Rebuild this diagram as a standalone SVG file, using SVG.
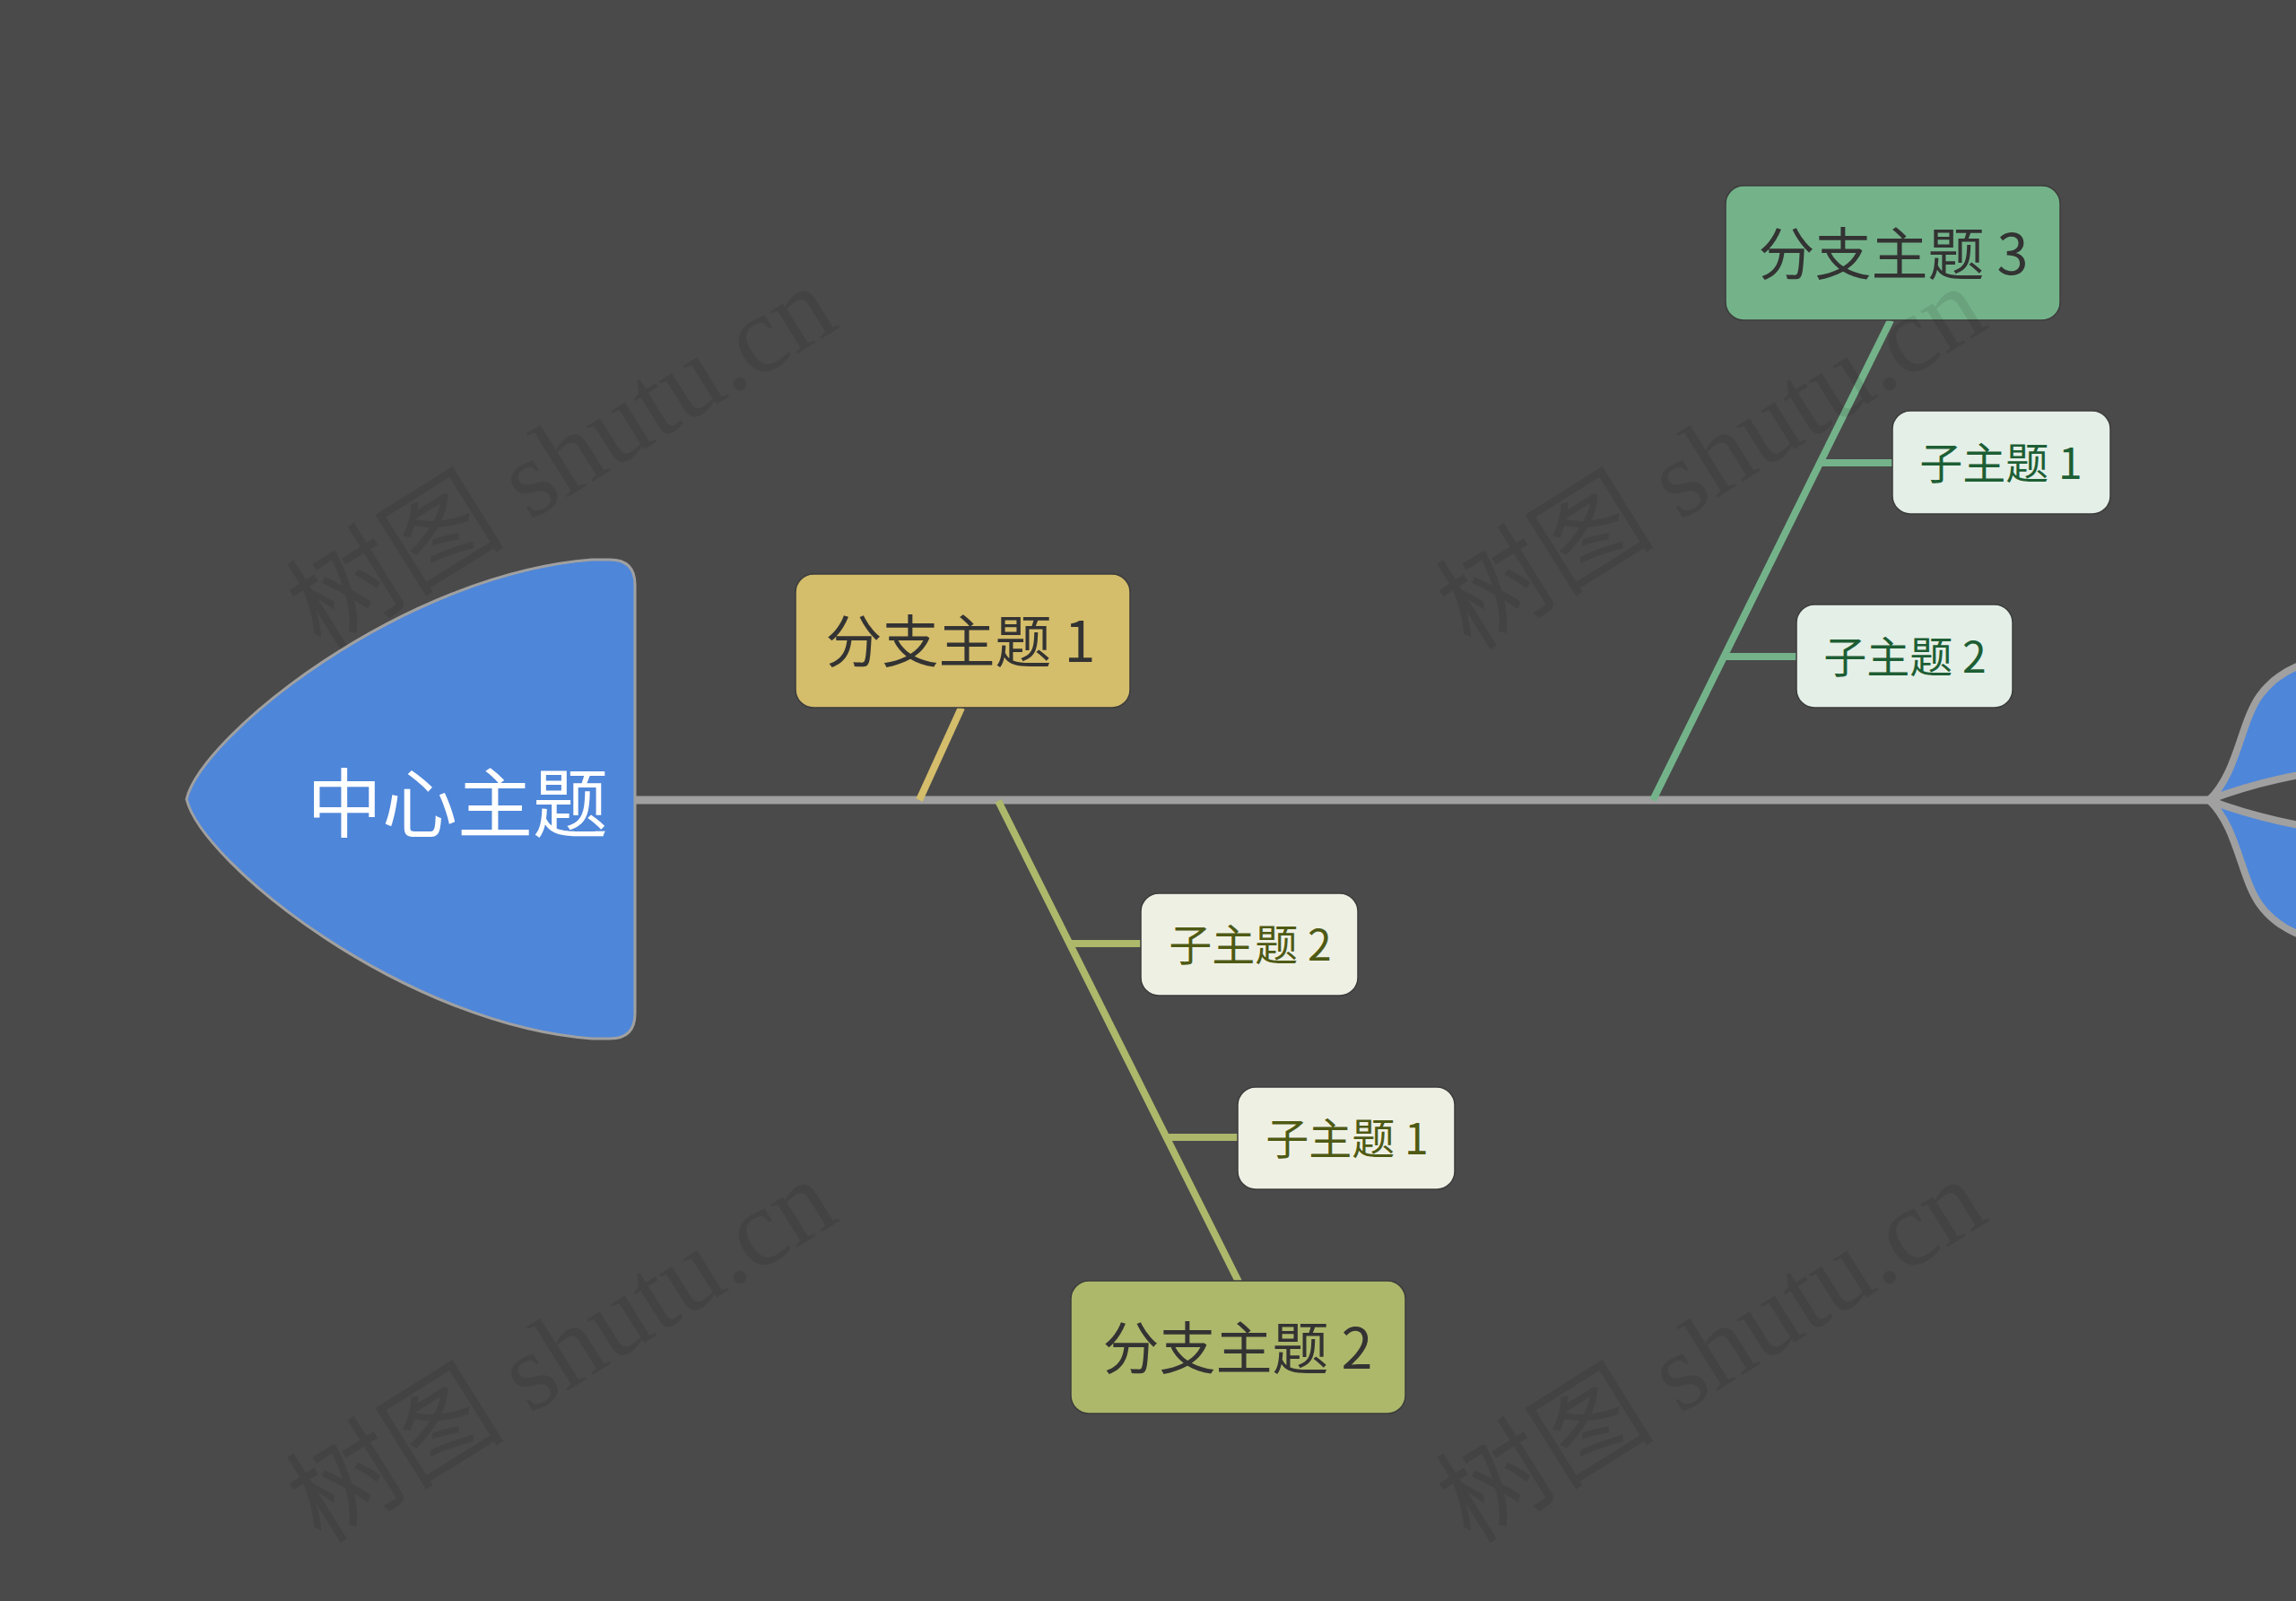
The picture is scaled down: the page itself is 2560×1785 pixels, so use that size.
<svg xmlns="http://www.w3.org/2000/svg" width="2560" height="1785" viewBox="0 0 2560 1785">
  <style>
    .t { font-family: "Noto Sans CJK SC", "Noto Sans", sans-serif; }
    .branch-box { stroke: #3c3c3c; stroke-width: 1.5; }
    .sub-box { stroke: #3c3c3c; stroke-width: 1.5; }
    .branch-text { font-size: 63px; fill: #333333; text-anchor: middle; }
    .sub-text { font-size: 48px; text-anchor: middle; }
    .wm { font-family: "Liberation Serif", "Noto Sans CJK SC", serif; font-size: 122px; fill: #000000; fill-opacity: 0.09; text-anchor: middle; }
    .c-line { fill: none; stroke-linecap: butt; }
  </style>
  <rect x="0" y="0" width="2560" height="1785" fill="#4a4a4a"/>

  <g id="connectors">
    <line class="c-line" x1="708" y1="892" x2="2466" y2="892" stroke="#a0a0a0" stroke-width="9"/>
    <line class="c-line" x1="1072" y1="789" x2="1025" y2="892" stroke="#d4bd6b" stroke-width="8"/>
    <line class="c-line" x1="1113" y1="893" x2="1381" y2="1429" stroke="#adb86b" stroke-width="8"/>
    <line class="c-line" x1="1193" y1="1052" x2="1273" y2="1052" stroke="#adb86b" stroke-width="8"/>
    <line class="c-line" x1="1301" y1="1268" x2="1381" y2="1268" stroke="#adb86b" stroke-width="8"/>
    <line class="c-line" x1="1843" y1="892" x2="2108" y2="357" stroke="#74b38a" stroke-width="8"/>
    <line class="c-line" x1="2029" y1="516" x2="2111" y2="516" stroke="#74b38a" stroke-width="8"/>
    <line class="c-line" x1="1922" y1="732" x2="2004" y2="732" stroke="#74b38a" stroke-width="8"/>
  </g>

  <g id="tail">
    <path d="M2463,892 C2495,862 2498,805 2520,775 C2540,748 2570,735 2620,730 L2620,855 C2580,860 2520,870 2463,892 Z" fill="#4e86d9" stroke="#a0a0a0" stroke-width="8" stroke-linejoin="round"/>
    <path d="M2463,892 C2495,922 2498,979 2520,1009 C2540,1036 2570,1049 2620,1054 L2620,929 C2580,924 2520,914 2463,892 Z" fill="#4e86d9" stroke="#a0a0a0" stroke-width="8" stroke-linejoin="round"/>
  </g>

  <g id="central">
    <path d="M208,891 C225,820 450,640 660,624 L680,624 Q708,624 708,652 L708,1130 Q708,1158 680,1158 L660,1158 C450,1142 225,962 208,891 Z" fill="#4e86d9" stroke="#a0a0a0" stroke-width="3"/>
    <text class="t" x="342" y="927" font-size="84" fill="#ffffff">中心主题</text>
  </g>

  <g id="branch1">
    <rect class="branch-box" x="887" y="640" width="373" height="149" rx="20" fill="#d4bd6b"/>
    <text class="t branch-text" x="1071" y="738">分支主题 1</text>
  </g>

  <g id="branch2">
    <rect class="branch-box" x="1194" y="1428" width="373" height="148" rx="20" fill="#adb86b"/>
    <text class="t branch-text" x="1380" y="1526">分支主题 2</text>
  </g>

  <g id="branch3">
    <rect class="branch-box" x="1924" y="207" width="373" height="150" rx="20" fill="#74b38a"/>
    <text class="t branch-text" x="2111" y="306">分支主题 3</text>
  </g>

  <g id="b2-sub2">
    <rect class="sub-box" x="1272" y="996" width="242" height="114" rx="20" fill="#eff0e4"/>
    <text class="t sub-text" x="1394" y="1071" fill="#4e5a14">子主题 2</text>
  </g>

  <g id="b2-sub1">
    <rect class="sub-box" x="1380" y="1212" width="242" height="114" rx="20" fill="#eff0e4"/>
    <text class="t sub-text" x="1502" y="1287" fill="#4e5a14">子主题 1</text>
  </g>

  <g id="b3-sub1">
    <rect class="sub-box" x="2110" y="458" width="243" height="115" rx="20" fill="#e4efe7"/>
    <text class="t sub-text" x="2231" y="534" fill="#1d5e34">子主题 1</text>
  </g>

  <g id="b3-sub2">
    <rect class="sub-box" x="2003" y="674" width="241" height="115" rx="20" fill="#e4efe7"/>
    <text class="t sub-text" x="2124" y="750" fill="#1d5e34">子主题 2</text>
  </g>

  <g id="watermarks">
    <text class="wm" transform="translate(648,545) rotate(-32)">树图 shutu.cn</text>
    <text class="wm" transform="translate(1930,545) rotate(-32)">树图 shutu.cn</text>
    <text class="wm" transform="translate(648,1541) rotate(-32)">树图 shutu.cn</text>
    <text class="wm" transform="translate(1930,1541) rotate(-32)">树图 shutu.cn</text>
  </g>
</svg>
